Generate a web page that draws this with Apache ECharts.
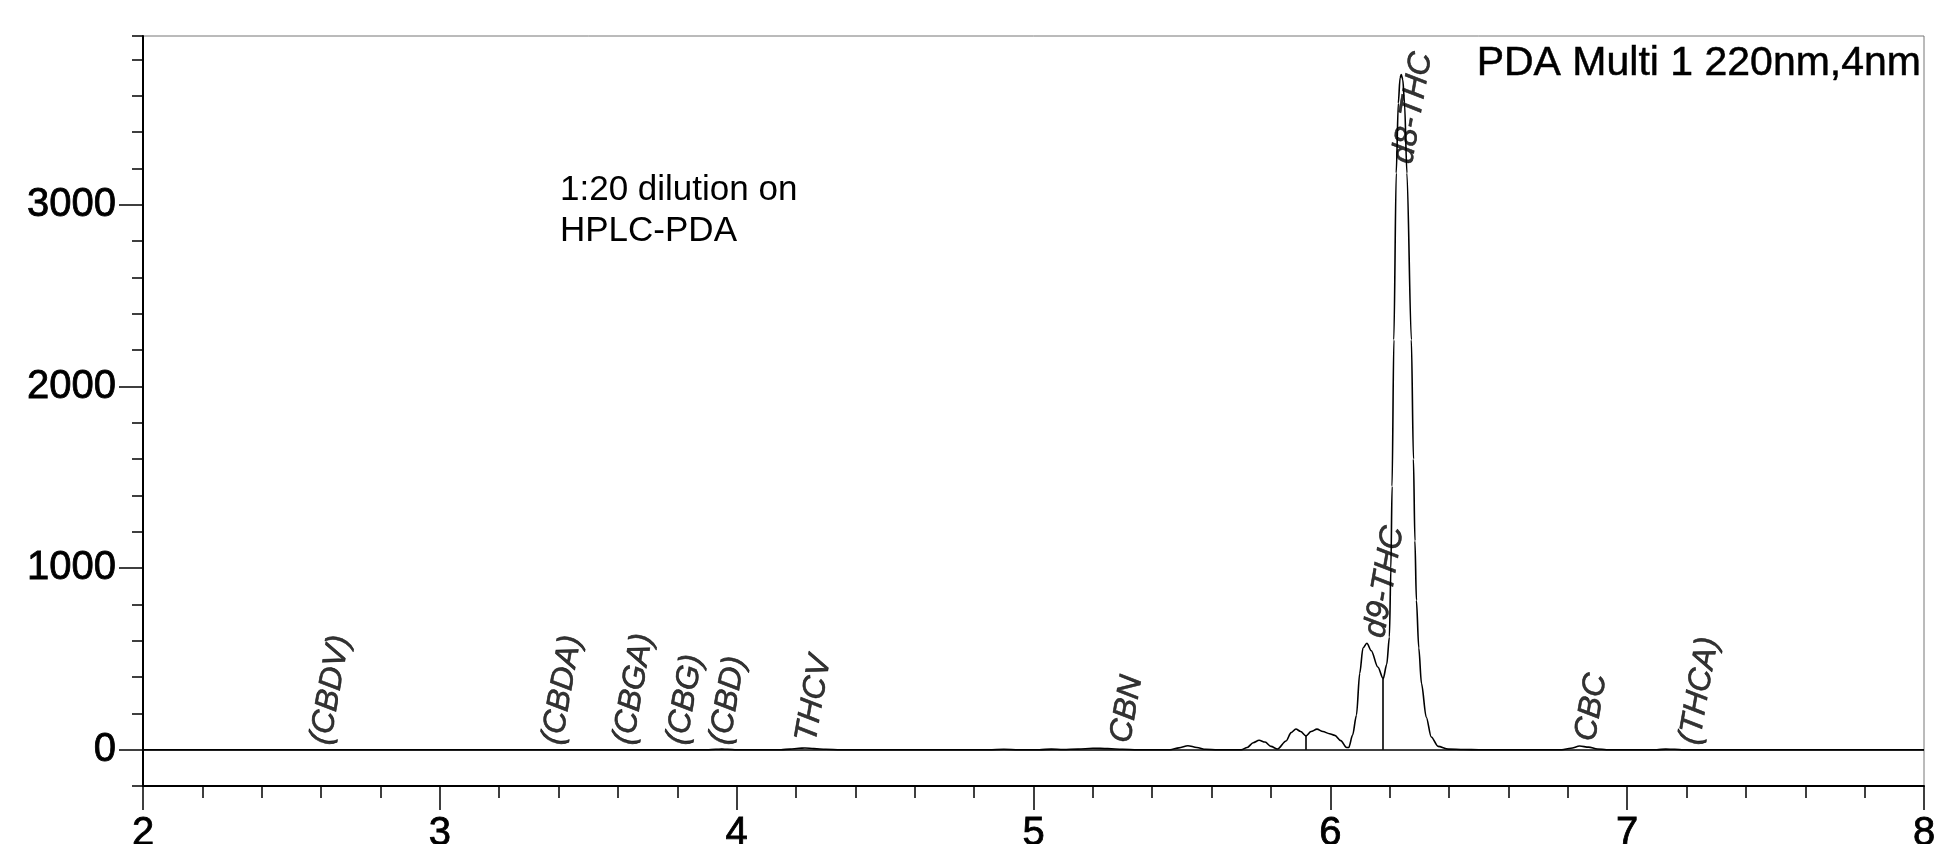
<!DOCTYPE html>
<html>
<head>
<meta charset="utf-8">
<script src="https://cdn.jsdelivr.net/npm/echarts@6/dist/echarts.min.js"></script>
<style>
  html, body { margin: 0; padding: 0; background: #ffffff; overflow: hidden; }
  #chart { width: 1954px; height: 844px; }
</style>
</head>
<body>
<div id="chart"></div>
<script>
// ---- data ----
const xTickLabels = [2, 3, 4, 5, 6, 7, 8];
const yTickLabels = [0, 1000, 2000, 3000];

// retention time (min) / signal (mAU)
const traceTimes = [
  2.00, 3.90, 3.93, 3.95, 3.97, 4.00,
  4.15, 4.18, 4.21, 4.23, 4.26, 4.30, 4.35,
  4.85, 4.90, 4.95,
  5.02, 5.06, 5.10, 5.15, 5.20, 5.25, 5.30, 5.35,
  5.46, 5.49, 5.52, 5.55, 5.58, 5.62,
  5.70, 5.72, 5.74, 5.76, 5.78, 5.80, 5.822,
  5.851, 5.868, 5.884, 5.90, 5.918, 5.935, 5.955, 5.975, 5.997, 6.015, 6.035, 6.055,
  6.062, 6.075, 6.088, 6.099, 6.110, 6.123, 6.138, 6.160, 6.178,
  6.190, 6.199, 6.204, 6.208, 6.214, 6.222, 6.229, 6.235, 6.239, 6.244, 6.250, 6.258,
  6.273, 6.280, 6.285, 6.290, 6.298, 6.307, 6.323, 6.340, 6.363, 6.397, 6.45, 6.50,
  6.78, 6.81, 6.84, 6.87, 6.90, 6.93,
  7.10, 7.13, 7.16, 7.19,
  8.00
];
const traceValues = [
  0, 0, 2, 3, 2, 0,
  0, 3, 8, 9, 6, 2, 0,
  0, 2, 0,
  0, 3, 1, 3, 8, 6, 2, 0,
  0, 10, 22, 12, 2, 0,
  0, 12, 38, 52, 42, 18, 4,
  48, 94, 114, 100, 76, 100, 113, 100, 88, 79, 50, 12,
  12, 80, 190, 420, 560, 586, 545, 455, 391,
  470, 620, 1000, 1450, 2257, 3175, 3560, 3700, 3718, 3690, 3560, 3175,
  2257, 1600, 1150, 822, 560, 365, 180, 70, 18, 3, 1, 0,
  0, 8, 20, 14, 4, 0,
  0, 3, 2, 0,
  0
];

// peak-name labels: anchor time and height
const peakNames  = ['(CBDV)', '(CBDA)', '(CBGA)', '(CBG)', '(CBD)', 'THCV', 'CBN', 'd9-THC', 'd8-THC', 'CBC', '(THCA)'];
const peakTimes  = [2.600, 3.380, 3.620, 3.800, 3.945, 4.235, 5.295, 6.150, 6.245, 6.860, 7.212];
const peakLabelY = [30, 30, 30, 30, 30, 45, 40, 620, 3230, 50, 30];

// integration drop lines
const dropTimes   = [5.918, 6.178];
const dropHeights = [76, 391];

const titleText = 'PDA Multi 1 220nm,4nm';
const noteLines = ['1:20 dilution on', 'HPLC-PDA'];

// ---- chart ----
const FONT = '"Liberation Sans", Arial, Helvetica, sans-serif';
const chart = echarts.init(document.getElementById('chart'), null, { renderer: 'canvas' });

const trace = traceTimes.map((t, i) => [t, traceValues[i]]);
const peaks = peakNames.map((n, i) => ({ name: n, value: [peakTimes[i], peakLabelY[i]] }));
const drops = dropTimes.map((t, i) => [
  { coord: [t, 0] }, { coord: [t, dropHeights[i]] }
]);

const option = {
  animation: false,
  backgroundColor: '#ffffff',
  grid: {
    left: 143, right: 30, top: 36, bottom: 58,
    containLabel: false, outerBoundsMode: 'none',
    show: true, borderColor: '#777777', borderWidth: 1, backgroundColor: 'transparent'
  },
  xAxis: {
    type: 'value', min: 2, max: 8, interval: 1,
    axisLine: { show: true, onZero: false, lineStyle: { color: '#000', width: 2 } },
    axisTick: { show: true, length: 24, lineStyle: { color: '#000', width: 1.5 } },
    minorTick: { show: true, splitNumber: 5, length: 12, lineStyle: { color: '#000', width: 1.5 } },
    axisLabel: {
      color: '#000', fontSize: 40, fontFamily: FONT, margin: 28,
      textBorderColor: '#000', textBorderWidth: 0.8,
      customValues: xTickLabels, formatter: v => String(v)
    },
    splitLine: { show: false }, minorSplitLine: { show: false }
  },
  yAxis: [
    {
      type: 'value', min: -200, max: 3930, interval: 200, position: 'left',
      axisLine: { show: true, onZero: false, lineStyle: { color: '#000', width: 2 } },
      axisTick: { show: true, length: 11, lineStyle: { color: '#000', width: 1.5 } },
      axisLabel: { show: false },
      splitLine: { show: false }
    },
    {
      type: 'value', min: -200, max: 3930, interval: 200, position: 'left',
      axisLine: { show: false },
      axisTick: { show: true, length: 24, customValues: yTickLabels, lineStyle: { color: '#000', width: 1.5 } },
      axisLabel: {
        show: true, color: '#000', fontSize: 40, fontFamily: FONT, margin: 27,
        textBorderColor: '#000', textBorderWidth: 0.8,
        customValues: yTickLabels, formatter: v => String(v)
      },
      splitLine: { show: false }
    }
  ],
  graphic: [
    {
      type: 'text', x: 1921, y: 64, silent: true,
      style: {
        text: titleText, fill: '#000', fontSize: 41, fontFamily: FONT,
        stroke: '#000', lineWidth: 0.5,
        align: 'right', verticalAlign: 'middle'
      }
    },
    {
      type: 'text', x: 560, y: 170, silent: true,
      style: {
        text: noteLines.join('\n'), fill: '#000', fontSize: 35, fontFamily: FONT,
        lineHeight: 41, align: 'left', verticalAlign: 'top'
      }
    }
  ],
  series: [
    {
      type: 'line', data: trace, showSymbol: false, symbol: 'none',
      smooth: 0.3, smoothMonotone: 'x',
      lineStyle: { color: '#000', width: 1.6 },
      markLine: {
        silent: true, symbol: ['none', 'none'], animation: false,
        label: { show: false },
        lineStyle: { color: '#000', width: 1.6, type: 'solid' },
        data: [{ yAxis: 0 }].concat(drops)
      },
      z: 3
    },
    {
      type: 'scatter', data: peaks, symbolSize: 0, silent: true,
      label: {
        show: true, formatter: '{b}', position: [0, 0],
        rotate: 80, align: 'left', verticalAlign: 'middle',
        color: '#000', fontSize: 32, fontFamily: FONT, fontStyle: 'italic',
        textBorderColor: '#000', textBorderWidth: 0.6
      },
      z: 4
    }
  ]
};
chart.setOption(option);
</script>
</body>
</html>
